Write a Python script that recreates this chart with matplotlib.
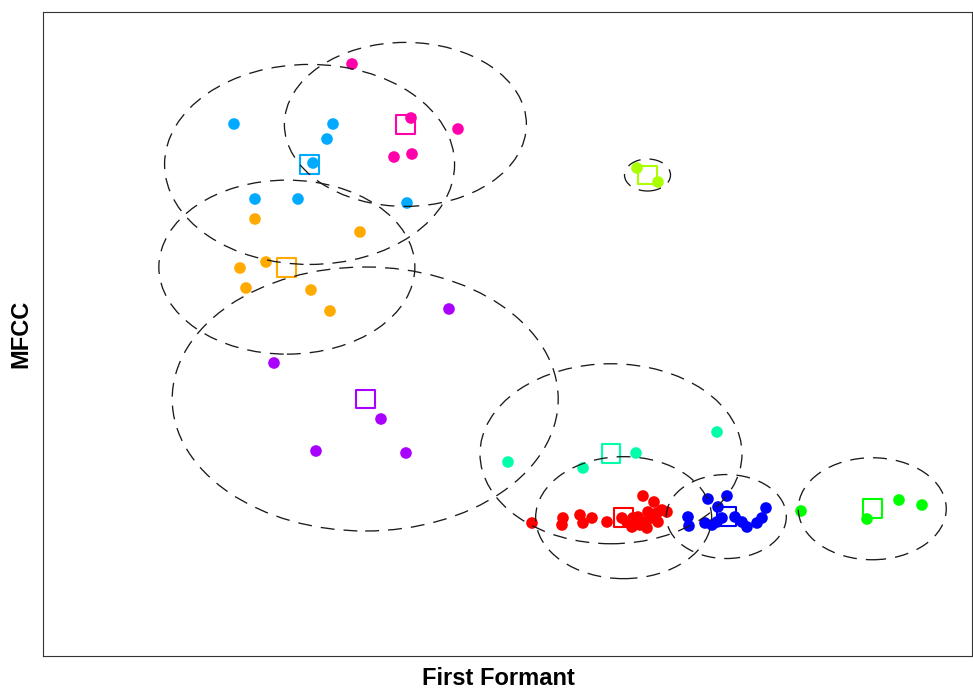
import numpy as np
import matplotlib
matplotlib.use("Agg")
import matplotlib.pyplot as plt
from matplotlib.patches import Ellipse

# vowel groups, colours as in R's rainbow(9)
groups = ["g1", "g2", "g3", "g4", "g5", "g6", "g7", "g8", "g9"]
colors = ["#FF0000", "#FFAA00", "#AAFF00", "#00FF00", "#00FFAA",
          "#00AAFF", "#0000FF", "#AA00FF", "#FF00AA"]

# first formant (x) and MFCC (y) values, arbitrary units
red_x = [532, 563, 562, 580, 583, 592, 607, 622, 627, 633, 632, 638, 640,
         645, 648, 652, 647, 657, 658, 662, 643, 654, 667]
red_y = [167, 172, 165, 175, 167, 172, 168, 172, 168, 172, 163, 173, 165,
         168, 178, 172, 162, 177, 168, 180, 194, 188, 178]
orange_x = [255, 360, 266, 240, 246, 311, 330]
orange_y = [471, 458, 428, 422, 402, 400, 379]
lime_x = [637, 658]
lime_y = [522, 508]
green_x = [801, 867, 899, 922]
green_y = [179, 171, 190, 185]
teal_x = [508, 583, 636, 717]
teal_y = [228, 222, 237, 258]
sky_x = [234, 333, 327, 313, 255, 298, 407]
sky_y = [566, 566, 551, 527, 491, 491, 487]
blue_x = [688, 689, 708, 727, 718, 705, 712, 717, 722, 735, 742, 747, 757,
          762, 766]
blue_y = [173, 164, 191, 194, 183, 167, 165, 168, 172, 173, 168, 163, 167,
          172, 182]
purple_x = [449, 274, 381, 316, 406]
purple_y = [381, 327, 271, 239, 237]
pink_x = [352, 411, 458, 394, 412]
pink_y = [626, 572, 561, 533, 536]

xs = [red_x, orange_x, lime_x, green_x, teal_x, sky_x, blue_x, purple_x, pink_x]
ys = [red_y, orange_y, lime_y, green_y, teal_y, sky_y, blue_y, purple_y, pink_y]

# ellipse full widths / heights around each group mean
ell_w = [176, 256, 46, 148, 262, 290, 120, 386, 242]
ell_h = [122, 174, 32, 102, 180, 200, 84, 264, 164]

plt.rcParams["lines.scale_dashes"] = False
plt.rcParams["font.family"] = ["Liberation Sans", "DejaVu Sans"]

fig = plt.figure(figsize=(9.73, 6.9), dpi=100)
ax = fig.add_axes([43 / 973, 34 / 690, 929 / 973, 644 / 690])

for gx, gy, col, w, h in zip(xs, ys, colors, ell_w, ell_h):
    mx, my = np.mean(gx), np.mean(gy)
    ax.scatter([mx], [my], s=185, marker="s", facecolors="none",
               edgecolors=col, linewidths=1.5, zorder=1)
    ax.scatter(gx, gy, s=70, color=col, edgecolors="none", zorder=2)
    ax.add_patch(Ellipse((mx, my), w, h, fill=False, edgecolor="#1a1a1a",
                         linewidth=0.95, linestyle=(0, (10, 6.5)), zorder=3))

ax.set_xlim(43, 972)
ax.set_ylim(34, 678)
ax.set_xticks([])
ax.set_yticks([])
for sp in ax.spines.values():
    sp.set_linewidth(0.8)
    sp.set_color("#333333")

ax.set_xlabel("First Formant", fontsize=17, fontweight="bold", labelpad=8,
              x=0.49)
ax.set_ylabel("MFCC", fontsize=17, fontweight="bold", labelpad=8)

fig.savefig("out.png", dpi=100)
